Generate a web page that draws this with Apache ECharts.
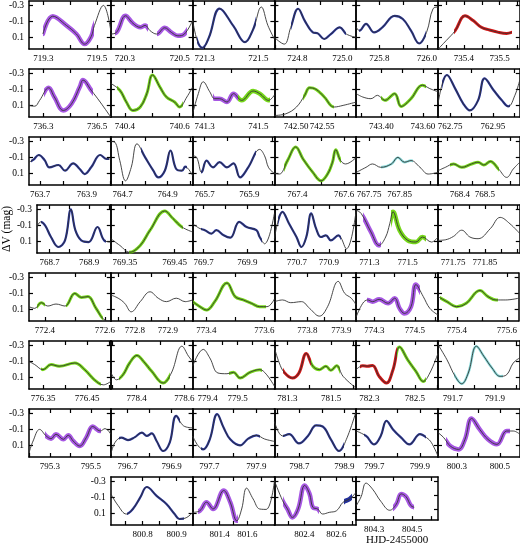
<!DOCTYPE html>
<html>
<head>
<meta charset="utf-8">
<script src="https://cdn.jsdelivr.net/npm/echarts@6/dist/echarts.min.js"></script>
<style>
html, body { margin: 0; padding: 0; background: #fff; }
#chart { width: 520px; height: 547px; }
</style>
</head>
<body>
<div id="chart"></div>
<script>
// HJD-2455000 window shown in each panel
const hjdWindows = [
  [719.247, 719.551], [720.249, 720.547], [721.255, 721.56], [724.698, 725.062], [725.702, 726.047], [735.328, 735.556],
  [736.247, 736.551], [740.349, 740.647], [741.255, 741.56], [742.458, 742.616], [743.278, 743.673], [762.694, 763.075],
  [763.653, 764.002], [764.647, 765.011], [765.647, 766.011], [767.302, 767.651], [767.707, 767.977], [768.312, 768.64],
  [768.636, 769.009], [769.322, 769.486], [769.65, 770.023], [770.56, 771.07], [771.232, 771.658], [771.703, 771.959],
  [772.347, 772.62], [772.727, 772.975], [773.352, 773.635], [773.703, 773.944], [774.21, 774.615], [775.325, 775.647],
  [776.318, 776.504], [778.292, 778.634], [779.35, 779.623], [781.241, 781.614], [782.242, 782.602], [791.629, 792.019],
  [795.198, 795.598], [796.623, 796.996], [797.628, 797.977], [798.589, 798.953], [799.62, 799.98], [800.212, 800.593],
  [800.706, 800.947], [801.207, 801.793], [802.212, 802.725], [804.205, 804.637]
];

// x tick labels per panel
const tickLabels = [
  ['719.3', '719.5'], ['720.3', '720.5'], ['721.3', '721.5'], ['724.8', '725.0'], ['725.8', '726.0'], ['735.4', '735.5'],
  ['736.3', '736.5'], ['740.4', '740.6'], ['741.3', '741.5'], ['742.50', '742.55'], ['743.40', '743.60'], ['762.75', '762.95'],
  ['763.7', '763.9'], ['764.7', '764.9'], ['765.7', '765.9'], ['767.4', '767.6'], ['767.75', '767.85'], ['768.4', '768.5'],
  ['768.7', '768.9'], ['769.35', '769.45'], ['769.7', '769.9'], ['770.7', '770.9'], ['771.3', '771.5'], ['771.75', '771.85'],
  ['772.4', '772.6'], ['772.8', '772.9'], ['773.4', '773.6'], ['773.8', '773.9'], ['774.3', '774.5'], ['775.4', '775.6'],
  ['776.35', '776.45'], ['778.4', '778.6'], ['779.4', '779.5'], ['781.3', '781.5'], ['782.3', '782.5'], ['791.7', '791.9'],
  ['795.3', '795.5'], ['796.7', '796.9'], ['797.7', '797.9'], ['798.7', '798.9'], ['799.7', '799.9'], ['800.3', '800.5'],
  ['800.8', '800.9'], ['801.4', '801.6'], ['802.4', '802.6'], ['804.3', '804.5']
];

const yTicks = [-0.3, -0.1, 0.1];

// light curve knots: [fraction of the panel window, ΔV mag]
const lightCurves = [
  [[0.17,0.058],[0.29,-0.165],[0.46,-0.047],[0.58,0.058],[0.68,0.184],[0.76,0.09],[0.80,-0.05],[0.91,-0.3],[1,0.016]],
  [[0,0.058],[0.07,0.037],[0.18,-0.17],[0.27,-0.077],[0.36,-0.026],[0.42,-0.05],[0.48,0.016],[0.56,0.058],[0.66,-0.02],[0.74,0.037],[0.82,0.08],[0.9,0.058],[1,-0.11]],
  [[0,-0.12],[0.06,0.15],[0.12,0.23],[0.2,0.1],[0.33,-0.26],[0.5,-0.04],[0.64,0.16],[0.74,0],[0.84,-0.28],[0.92,-0.05],[1,0.12]],
  [[0,0.1],[0.12,0.184],[0.2,-0.026],[0.29,-0.258],[0.37,-0.11],[0.47,0.037],[0.53,0.05],[0.61,0.12],[0.69,0.058],[0.8,-0.026],[0.88,0.058],[1,0.1]],
  [[0,-0.026],[0.04,0.016],[0.12,-0.07],[0.22,0.037],[0.32,-0.026],[0.47,-0.17],[0.57,-0.13],[0.67,0.016],[0.77,0.176],[0.86,0.037],[0.94,-0.26],[1,-0.28]],
  [[0,0.247],[0.1,0.14],[0.21,0.016],[0.33,-0.17],[0.43,-0.11],[0.53,-0.026],[0.63,0.007],[0.74,0.037],[0.84,0.05],[0.9,0.037]],
  [[0,0.1],[0.07,0.11],[0.13,0.037],[0.24,-0.12],[0.31,-0.005],[0.42,0.163],[0.52,0.08],[0.62,-0.13],[0.66,-0.216],[0.76,-0.09],[0.87,0.058],[1,0.247]],
  [[0,-0.174],[0.11,-0.09],[0.19,0.058],[0.27,0.163],[0.36,0.12],[0.44,-0.047],[0.51,-0.28],[0.6,-0.13],[0.68,-0.005],[0.78,0.058],[0.84,0.12],[0.93,-0.005],[1,-0.13]],
  [[0,0.205],[0.07,-0.047],[0.13,-0.195],[0.21,-0.07],[0.27,0.016],[0.33,0.016],[0.42,0.058],[0.5,-0.047],[0.6,0.037],[0.74,-0.08],[0.82,-0.047],[0.93,0.037],[1,-0.03]],
  [[0,0.226],[0.14,0.205],[0.27,0.12],[0.37,-0.026],[0.43,-0.12],[0.51,-0.1],[0.61,-0.005],[0.73,0.12],[0.84,0.1],[1,0.058]],
  [[0,-0.047],[0.08,-0.005],[0.18,0.016],[0.26,-0.026],[0.35,0.037],[0.47,-0.047],[0.55,0.113],[0.67,0.016],[0.81,-0.153],[0.9,-0.11],[1,-0.07]],
  [[0,0.08],[0.11,-0.28],[0.21,-0.11],[0.31,0.08],[0.39,0.163],[0.49,0.037],[0.57,-0.237],[0.68,-0.09],[0.78,0.037],[0.86,0.113],[0.94,-0.026],[1,-0.216]],
  [[0,-0.04],[0.05,-0.068],[0.12,-0.13],[0.19,-0.068],[0.25,0.024],[0.36,-0.005],[0.44,0.066],[0.54,-0.026],[0.62,0.045],[0.68,0.108],[0.76,0.024],[0.87,-0.13],[0.95,-0.08],[1,-0.08]],
  [[0,-0.3],[0.05,-0.29],[0.11,-0.06],[0.18,0.193],[0.25,0.024],[0.32,-0.27],[0.42,-0.1],[0.52,0.066],[0.58,0.15],[0.66,0.066],[0.73,-0.186],[0.8,0.045],[0.87,0.066],[0.91,0.016],[1,0.13]],
  [[0,-0.12],[0.05,-0.1],[0.11,0.087],[0.17,-0.06],[0.25,0.024],[0.33,-0.04],[0.42,0.024],[0.5,-0.026],[0.58,0.15],[0.68,0.024],[0.82,-0.2],[0.88,-0.12],[0.93,0.03],[1,0.1]],
  [[0,0.1],[0.06,0.108],[0.16,-0.06],[0.26,-0.23],[0.35,-0.08],[0.47,0.087],[0.57,0.193],[0.65,0.108],[0.71,-0.04],[0.75,-0.195],[0.81,-0.06],[0.87,-0.018],[1,-0.1]],
  [[0,0.087],[0.12,0.024],[0.2,-0.018],[0.3,0.024],[0.43,-0.018],[0.51,-0.1],[0.59,-0.04],[0.67,-0.06],[0.78,0.024],[0.88,0.108],[1,0.087]],
  [[0,0.066],[0.09,0.024],[0.19,-0.018],[0.29,0.024],[0.41,-0.018],[0.49,-0.04],[0.56,-0.005],[0.64,-0.05],[0.74,0.045],[0.84,0.15],[0.92,0.045],[1,-0.04]],
  [[0,-0.08],[0.05,-0.144],[0.11,-0.1],[0.19,0.045],[0.29,0.17],[0.38,0.087],[0.46,-0.3],[0.52,-0.04],[0.6,0.087],[0.7,0.108],[0.82,-0.08],[0.91,0.087],[1,0.108]],
  [[0,0.066],[0.11,0.15],[0.23,0.235],[0.36,0.15],[0.48,-0.04],[0.66,-0.28],[0.76,-0.186],[0.87,-0.08],[1,-0.018]],
  [[0,-0.12],[0.09,-0.06],[0.15,-0.04],[0.23,0.003],[0.29,-0.04],[0.38,0.024],[0.46,0.054],[0.57,-0.144],[0.66,-0.08],[0.78,-0.04],[0.82,0.045],[0.88,0.13],[1,-0.25]],
  [[0,0.066],[0.1,-0.27],[0.18,-0.12],[0.27,0.045],[0.33,0.17],[0.39,0.045],[0.45,-0.25],[0.51,-0.06],[0.57,0.045],[0.63,0.024],[0.69,0.087],[0.78,0.024],[0.88,0.193],[1,-0.29]],
  [[0,-0.29],[0.06,-0.25],[0.18,-0.018],[0.28,0.15],[0.36,0.045],[0.41,-0.12],[0.45,-0.27],[0.53,-0.04],[0.63,0.087],[0.73,0.108],[0.81,0.045],[0.92,0.108],[1,0.045]],
  [[0,0.087],[0.09,0.08],[0.19,0.037],[0.29,-0.04],[0.39,0.045],[0.49,0.066],[0.64,-0.06],[0.76,-0.2],[0.88,-0.12],[1,0.003]],
  [[0,0.066],[0.07,0.087],[0.15,0.016],[0.23,0.058],[0.33,0.033],[0.44,0.058],[0.56,-0.1],[0.64,-0.05],[0.72,-0.06],[0.82,0.087],[0.93,0.235],[1,0.245]],
  [[0,-0.08],[0.09,-0.04],[0.17,0.024],[0.25,0.13],[0.36,0.003],[0.48,-0.12],[0.58,-0.04],[0.68,0.003],[0.8,-0.04],[0.91,0.003],[1,-0.018]],
  [[0,0.003],[0.09,0.066],[0.17,0.108],[0.27,0.003],[0.42,-0.23],[0.52,-0.06],[0.62,-0.018],[0.72,0.024],[0.82,0.066],[0.91,0.066],[1,-0.03]],
  [[0,0.003],[0.1,-0.018],[0.2,0.016],[0.33,0.003],[0.43,0.087],[0.55,0.184],[0.65,0.066],[0.78,-0.25],[0.86,-0.1],[0.94,-0.04],[1,0.045]],
  [[0,0.193],[0.08,0.024],[0.14,-0.018],[0.2,0.003],[0.28,-0.026],[0.39,0.024],[0.47,-0.04],[0.53,0.087],[0.59,0.15],[0.67,0.066],[0.73,-0.21],[0.82,-0.06],[0.9,0.087],[1,0.17]],
  [[0,-0.06],[0.11,0.003],[0.23,0.066],[0.35,0.024],[0.52,-0.136],[0.62,-0.06],[0.72,-0.018],[0.84,-0.018],[1,-0.04]],
  [[0,-0.1],[0.07,-0.06],[0.17,0.003],[0.27,-0.06],[0.37,-0.04],[0.56,-0.08],[0.68,0.003],[0.8,0.13],[0.91,0.193],[1,0.15]],
  [[0,0.037],[0.07,0.13],[0.15,0.066],[0.23,-0.08],[0.32,-0.174],[0.4,-0.1],[0.5,0.024],[0.64,0.17],[0.74,0.045],[0.87,-0.29],[0.95,-0.165],[1,-0.1]],
  [[0,-0.04],[0.13,-0.25],[0.21,-0.144],[0.31,0.045],[0.42,0.054],[0.5,0.037],[0.58,0.108],[0.7,0.037],[0.82,0.003],[0.9,0.06],[1,0.21]],
  [[0,-0.27],[0.06,-0.08],[0.12,0.037],[0.22,0.108],[0.3,0.045],[0.39,-0.2],[0.47,-0.04],[0.55,0.003],[0.63,-0.04],[0.69,0.012],[0.76,-0.047],[0.84,0.087],[1,0.235]],
  [[0,0.003],[0.08,-0.047],[0.14,-0.04],[0.2,-0.05],[0.28,0.087],[0.37,0.17],[0.45,0.003],[0.53,-0.28],[0.63,-0.12],[0.73,0.024],[0.82,0.15],[0.9,0.045],[1,-0.2]],
  [[0,-0.31],[0.11,-0.12],[0.21,0.087],[0.29,0.18],[0.37,0.045],[0.47,-0.29],[0.56,-0.165],[0.66,-0.018],[0.76,0.087],[0.84,0.066],[0.92,-0.08],[1,-0.144]],
  [[0,0.193],[0.05,0.045],[0.13,-0.1],[0.21,-0.018],[0.27,0.016],[0.33,-0.04],[0.42,0.024],[0.48,-0.026],[0.54,0.045],[0.62,0.108],[0.7,0.003],[0.78,-0.136],[0.87,-0.08],[0.93,-0.11],[1,-0.04]],
  [[0,0.214],[0.05,0.066],[0.13,0.003],[0.21,0.033],[0.29,0.0],[0.38,-0.06],[0.44,-0.018],[0.5,-0.05],[0.56,0.045],[0.64,0.17],[0.72,0.066],[0.8,-0.27],[0.89,-0.144],[1,-0.12]],
  [[0,-0.018],[0.07,0.108],[0.13,0.15],[0.21,0.024],[0.3,-0.29],[0.38,-0.12],[0.46,0.024],[0.58,0.1],[0.68,0.016],[0.78,-0.026],[0.88,0.02],[1,0.05]],
  [[0,-0.2],[0.1,-0.018],[0.18,-0.04],[0.3,0.075],[0.41,-0.018],[0.51,-0.15],[0.59,-0.136],[0.69,0.024],[0.79,0.17],[0.88,0.024],[1,-0.33]],
  [[0,-0.08],[0.12,-0.018],[0.22,0.087],[0.3,-0.018],[0.37,-0.207],[0.45,-0.1],[0.55,0.003],[0.65,0.087],[0.78,-0.04],[0.86,0.003],[0.92,0.066],[1,0.235]],
  [[0,-0.06],[0.07,0.003],[0.15,0.108],[0.25,0.15],[0.33,0.024],[0.41,-0.237],[0.51,-0.1],[0.61,0.024],[0.72,0.087],[0.84,-0.08],[0.92,-0.08],[1,-0.04]],
  [[0,-0.144],[0.09,0.003],[0.19,0.108],[0.27,0.045],[0.36,-0.1],[0.44,-0.23],[0.56,-0.12],[0.68,-0.018],[0.78,0.108],[0.84,0.17],[0.93,0.15],[1,0.087]],
  [[0,0.087],[0.09,0.066],[0.17,-0.04],[0.25,0.045],[0.38,-0.186],[0.46,-0.04],[0.54,0.193],[0.6,0.045],[0.66,-0.216],[0.74,-0.08],[0.82,0.045],[0.9,0.05],[1,-0.3]],
  [[0,-0.31],[0.1,-0.06],[0.16,0.045],[0.22,0.15],[0.29,0.045],[0.37,-0.25],[0.43,-0.144],[0.47,0.024],[0.53,0.045],[0.59,0.108],[0.67,0.087],[0.76,0.066],[0.84,-0.04],[0.92,-0.08],[1,-0.165]],
  [[0,0.045],[0.06,-0.08],[0.12,-0.27],[0.2,-0.186],[0.3,-0.018],[0.41,0.108],[0.49,0.024],[0.55,-0.12],[0.61,-0.08],[0.67,0.045],[0.71,0.066]]
];

// observed stretches: [from fraction, to fraction, data set]
const dataSegments = [
  [[0.17,0.8,'p']], [[0.05,0.46,'p'],[0.56,0.93,'p']], [[0.05,0.78,'b']], [[0.2,0.87,'b']], [[0.03,0.85,'b']], [[0.2,0.9,'r']],
  [[0.18,0.78,'p']], [[0.08,0.88,'g']], [[0.25,0.55,'p'],[0.55,0.95,'g']], [[0.35,0.73,'g']], [[0.3,0.85,'g']], [[0.05,0.88,'b']],
  [[0.03,0.98,'b']], [[0.37,0.93,'b']], [[0.1,0.78,'b']], [[0.12,0.82,'g']], [[0.3,0.7,'t']], [[0.15,0.75,'g']],
  [[0.05,0.93,'b']], [[0.22,0.88,'g']], [[0.1,0.85,'b']], [[0.05,0.82,'b']], [[0.08,0.3,'p'],[0.42,0.85,'g']], [],
  [[0.1,0.2,'g'],[0.45,0.9,'g']], [], [[0,0.9,'g']], [], [[0.13,0.78,'p']], [[0.02,0.74,'g']],
  [[0.15,0.88,'g']], [[0.1,0.72,'g']], [[0.45,0.85,'g']], [[0.1,0.45,'r'],[0.45,0.8,'g']], [[0.05,0.5,'r'],[0.5,0.85,'g']], [[0.2,0.8,'t']],
  [[0.19,0.88,'p']], [[0.1,0.85,'b']], [[0.1,0.82,'b']], [[0.1,0.85,'b']], [[0.1,0.85,'b']], [[0.1,0.88,'p']],
  [[0.2,0.9,'b']], [[0.07,0.55,'p']], [[0.1,0.55,'p'],[0.85,0.95,'b']], [[0.45,0.71,'p']]
];

const dataColors = { p: 'rgba(145,45,220,0.8)', b: '#23309a', g: 'rgba(102,210,0,0.9)', r: '#d41515', t: '#8adcdc' };
const dataWidths = { p: 4.5, b: 2.2, g: 3, r: 3, t: 2.5 };

const chart = echarts.init(document.getElementById('chart'));
const serif = "'Liberation Serif', 'DejaVu Serif', serif";

const grids = [], xAxes = [], yAxes = [], series = [], visualMaps = [];

hjdWindows.forEach((win, i) => {
  const row = i < 42 ? Math.floor(i / 6) : 7;
  const col = i < 42 ? i % 6 : i - 41;
  grids.push({ left: 29 + col * 81.8, top: 1 + row * 68, width: 81.8, height: 48 });

  const [x0, x1] = win;
  const labels = tickLabels[i].map(Number);
  const step = (labels[1] - labels[0]) / 2;
  const xTicks = [];
  for (let k = -4; k <= 8; k++) {
    const t = +(labels[0] + k * step).toFixed(4);
    if (t > x0 && t < x1) xTicks.push(t);
  }
  const lineStyle = { color: '#000', width: 1.5 };
  const tickStyle = { inside: true, length: 4, lineStyle: { color: '#000', width: 1.2 } };

  const bottomIdx = xAxes.length;
  xAxes.push({
    type: 'value', gridIndex: i, position: 'bottom', min: x0, max: x1,
    axisLine: { onZero: false, lineStyle }, splitLine: { show: false },
    axisTick: { ...tickStyle, customValues: xTicks },
    axisLabel: {
      customValues: labels, margin: 5, color: '#000', fontFamily: serif, fontSize: 9,
      showMinLabel: true, showMaxLabel: true, hideOverlap: false,
      formatter: v => Math.abs(v - labels[0]) < 1e-6 ? tickLabels[i][0] : tickLabels[i][1]
    },
    name: i === 45 ? 'HJD-2455000' : '', nameLocation: 'middle', nameGap: 13,
    nameTextStyle: { color: '#000', fontFamily: serif, fontSize: 11 }
  });
  xAxes.push({
    type: 'value', gridIndex: i, position: 'top', min: x0, max: x1,
    axisLine: { onZero: false, lineStyle }, splitLine: { show: false },
    axisTick: { ...tickStyle, customValues: xTicks }, axisLabel: { show: false }
  });

  const showY = col === 0 || (row === 7 && col === 1);
  const leftIdx = yAxes.length;
  yAxes.push({
    type: 'value', gridIndex: i, position: 'left', min: -0.355, max: 0.245, inverse: true,
    axisLine: { onZero: false, lineStyle }, splitLine: { show: false },
    axisTick: { ...tickStyle, customValues: yTicks },
    axisLabel: {
      show: showY, customValues: yTicks, margin: 5, color: '#000', fontFamily: serif, fontSize: 9.5,
      showMinLabel: true, showMaxLabel: true, formatter: v => v.toFixed(1)
    },
    name: i === 18 ? 'ΔV (mag)' : '', nameLocation: 'middle', nameGap: 19, nameRotate: 90,
    nameTextStyle: { color: '#000', fontFamily: serif, fontSize: 11.5 }
  });
  yAxes.push({
    type: 'value', gridIndex: i, position: 'right', min: -0.355, max: 0.245, inverse: true,
    axisLine: { onZero: false, lineStyle }, splitLine: { show: false },
    axisTick: { ...tickStyle, customValues: yTicks }, axisLabel: { show: false }
  });

  const points = lightCurves[i].map(([f, v]) => [x0 + f * (x1 - x0), v]);
  const segs = dataSegments[i];

  if (segs.length) {
    visualMaps.push({
      type: 'piecewise', show: false, seriesIndex: series.length, dimension: 0,
      pieces: segs.map(([f0, f1, key]) => ({
        gte: x0 + f0 * (x1 - x0), lte: x0 + f1 * (x1 - x0), color: dataColors[key]
      })),
      outOfRange: { color: 'rgba(0,0,0,0)' }
    });
    series.push({
      type: 'line', xAxisIndex: bottomIdx, yAxisIndex: leftIdx, data: points,
      smooth: 0.4, symbol: 'none', silent: true, z: 2,
      lineStyle: { width: dataWidths[segs[0][2]], cap: 'round' }
    });
  }
  series.push({
    type: 'line', xAxisIndex: bottomIdx, yAxisIndex: leftIdx, data: points,
    smooth: 0.4, symbol: 'none', silent: true, z: 3,
    lineStyle: { color: '#333', width: 0.9 }
  });
});

chart.setOption({
  animation: false,
  backgroundColor: '#fff',
  grid: grids,
  xAxis: xAxes,
  yAxis: yAxes,
  visualMap: visualMaps,
  series
});
</script>
</body>
</html>
